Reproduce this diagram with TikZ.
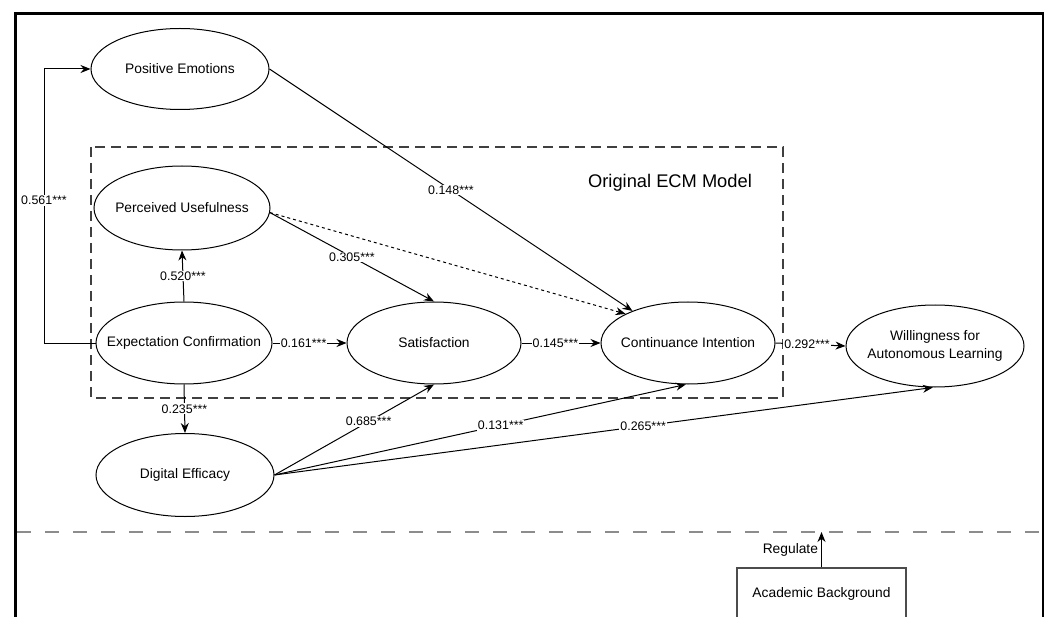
\documentclass[tikz,border=0pt]{standalone}
\usepackage{fontspec}
\setmainfont{Liberation Sans}
\usetikzlibrary{shapes.geometric,arrows.meta}
\begin{document}
\begin{tikzpicture}[x=1pt,y=-1pt,
  ell/.style={draw, line width=1pt, ellipse, inner sep=0pt, minimum width=176pt, minimum height=82pt},
  txt/.style={font=\fontsize{13.8}{18}\selectfont, align=center, inner sep=0pt},
  lab/.style={fill=white, inner sep=1pt, font=\fontsize{12.4}{14}\selectfont},
  arr/.style={line width=1pt, -{Stealth[length=10pt,width=8pt]}},
  dots/.style={dash pattern=on 3pt off 3pt},
  ecm/.style={draw=black!75, line width=1.1pt, dash pattern=on 10pt off 6pt},
  sep/.style={draw=black!45, line width=2pt, dash pattern=on 14pt off 14pt},
  frame/.style={draw=black, line width=2.6pt}
]
\useasboundingbox (0,0) rectangle (1051,617);
% outer frame (bottom not visible)
\draw[frame] (15.5,625) -- (15.5,13.5) -- (1043,13.5) -- (1043,625);
% separator
\draw[sep] (17,532) -- (1043,532);
% ECM box
\draw[ecm] (91,147) rectangle (783,398);
\node[font=\fontsize{18.3}{22}\selectfont, inner sep=0pt] (title) at (670,183) {Original ECM Model};
% constructs
\node[ell, minimum width=178pt, minimum height=81pt, label={[txt]center:Positive Emotions}] (pe) at (180,69) {};
\node[ell, minimum height=84pt, label={[txt]center:Perceived Usefulness}] (pu) at (182,208) {};
\node[ell, label={[txt]center:Expectation Confirmation}] (ec) at (184,343) {};
\node[ell, minimum width=174pt, label={[txt]center:Satisfaction}] (sat) at (434,343) {};
\node[ell, minimum width=174pt, label={[txt]center:Continuance Intention}] (cont) at (688,343) {};
\node[ell, minimum width=178pt, label={[txt]center:{Willingness for\\Autonomous Learning}}] (will) at (935,346) {};
\node[ell, minimum width=178pt, minimum height=83pt, label={[txt]center:Digital Efficacy}] (de) at (185,475) {};
\node[draw=black!70, line width=1.4pt, minimum width=169pt, minimum height=51pt, inner sep=0pt, txt] (ab) at (821.5,593.5) {Academic Background};
% connectors
\coordinate (ecl) at (44,343);
\coordinate (pel) at (44,69);
\draw[arr] (ec.west) -- (ecl) -- node[lab, pos=0.52]{0.561***} (pel) -- (pe.west);
\draw[arr] (ec.north) -- node[lab]{0.520***} (pu.south);
\draw[arr] (ec.east) -- node[lab, pos=0.42]{0.161***} (sat.west);
\draw[arr] (sat.east) -- node[lab, pos=0.43]{0.145***} (cont.west);
\draw[arr] (cont.east) -- node[lab, pos=0.45]{0.292***} (will.west);
\draw[arr] (ec.south) -- node[lab, pos=0.5]{0.235***} (de.north);
\draw[arr] (pu.-3) -- node[lab]{0.305***} (sat.north);
\draw[arr, dots] (pu.-3) -- (cont.155);
\draw[arr] (pe.east) -- node[lab]{0.148***} (cont.150);
\draw[arr] (de.east) -- node[lab, pos=0.59]{0.685***} (sat.south);
\draw[arr] (de.east) -- node[lab, pos=0.55]{0.131***} (cont.-93);
\draw[arr] (de.east) -- node[lab, pos=0.56]{0.265***} (will.-93);
\coordinate (regend) at (ab.north |- 0,532);
\draw[arr] (ab.north) -- node[left, txt, xshift=-3pt]{Regulate} (regend);
\end{tikzpicture}
\end{document}
